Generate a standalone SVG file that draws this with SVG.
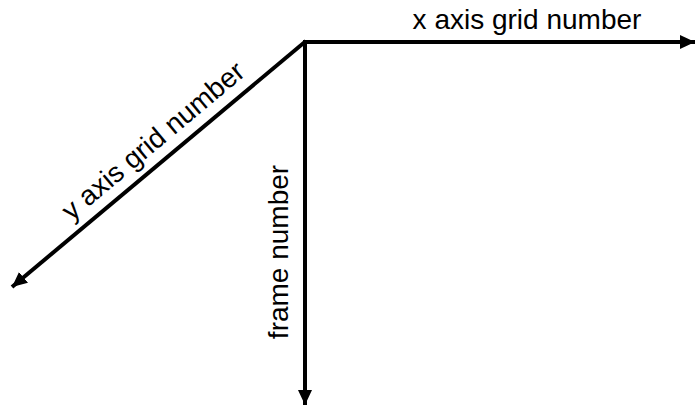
<svg xmlns="http://www.w3.org/2000/svg" width="696" height="407" viewBox="0 0 696 407">
  <style>
    .axis { stroke: #000; stroke-width: 4; fill: none; }
    .lbl { font-family: "Liberation Sans", Arial, sans-serif; font-size: 28px; fill: #000; }
  </style>
  <defs>
    <marker id="arrow" markerUnits="userSpaceOnUse" markerWidth="16" markerHeight="14" refX="15" refY="7" orient="auto">
      <path d="M0,0 L15,7 L0,14 Z" fill="#000"/>
    </marker>
  </defs>
  <rect width="696" height="407" fill="#fff"/>
  <g id="connectors">
    <line class="axis" x1="303" y1="42" x2="695" y2="42" marker-end="url(#arrow)"/>
    <line class="axis" x1="305" y1="40" x2="305" y2="405" marker-end="url(#arrow)"/>
    <line class="axis" x1="306" y1="41" x2="12" y2="287" marker-end="url(#arrow)"/>
  </g>
  <g id="x-axis-label">
    <text class="lbl" x="527" y="29" text-anchor="middle">x axis grid number</text>
  </g>
  <g id="y-axis-label">
    <text class="lbl" text-anchor="middle" transform="translate(159,148) rotate(-40)">y axis grid number</text>
  </g>
  <g id="frame-label">
    <text class="lbl" text-anchor="middle" transform="translate(288,252) rotate(-90)">frame number</text>
  </g>
</svg>
